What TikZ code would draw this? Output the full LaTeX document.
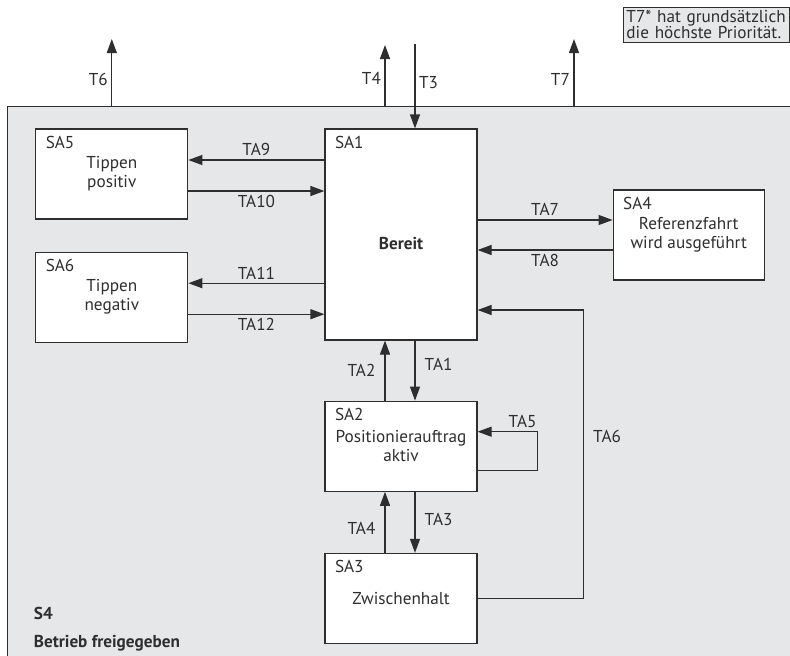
\documentclass[tikz,border=0pt]{standalone}
\usepackage{fontspec}
\setmainfont{PT Sans}
\usetikzlibrary{arrows.meta,positioning}
\definecolor{bgray}{HTML}{E6E7E9}
\definecolor{ink}{HTML}{2E2E2E}

\begin{document}
\begin{tikzpicture}[x=1pt,y=-1pt,
  font=\fontsize{17.2}{19}\selectfont, text=ink, line width=1.2pt,
  >={Triangle[length=14pt,width=10pt]},
  st/.style={draw=ink,fill=white,minimum width=152pt,minimum height=90pt,
    align=center,inner sep=0pt},
  sa/.style={label={[anchor=north west,inner sep=0pt,xshift=10pt,yshift=-7pt]north west:#1}},
  tr/.style={->,draw=ink},
  hl/.style={inner sep=3.5pt}, vl/.style={inner sep=9pt}]
\useasboundingbox (0,0) rectangle (790,656);
% aeusserer Zustand S4
\node[draw=ink,fill=bgray,anchor=north west,minimum width=820pt,minimum height=600pt,
  inner sep=0pt] (s4) at (7,106) {};
\node[anchor=base west,font=\fontsize{17.2}{19}\bfseries] (s4a) at (30,619) {S4};
\node[anchor=base west,font=\fontsize{17.2}{19}\bfseries] (s4b) at (30,647) {Betrieb freigegeben};
\node[draw=ink,fill=bgray,line width=0.9pt,anchor=north west,align=left,text width=160pt,
  inner sep=3pt] (note) at (623,7) {T7* hat grundsätzlich\\[-3pt]die höchste Priorität.};
% Unterzustaende
\node[st,sa=SA1,minimum height=211pt] (sa1) at (401,234.5) {\raisebox{-15pt}[0pt][0pt]{\textbf{Bereit}}};
\node[st,sa=SA5,left=136pt of sa1.north west,anchor=north east] (sa5) {Tippen\\positiv};
\node[st,sa=SA6,below=32pt of sa5] (sa6) {Tippen\\negativ};
\node[st,sa=SA4,minimum width=151pt,right=135pt of sa1.north east,anchor=north west,
  yshift=-61pt] (sa4) {Referenzfahrt\\wird ausgeführt};
\node[st,sa=SA2,below=60pt of sa1] (sa2) {Positionierauftrag\\aktiv};
\node[st,sa=SA3,below=61pt of sa2] (sa3) {Zwischenhalt};
% Transitionen nach aussen
\draw[tr] (sa5.north |- s4.north) -- node[left,hl,pos=0.4]{T6} ++(0,-67);
\draw[tr] ([xshift=-16pt]sa1.north |- s4.north) -- node[left,hl,pos=0.45]{T4} ++(0,-61);
\draw[tr] ([xshift=14pt,yshift=84pt]sa1.north) -- node[right,hl,pos=0.45]{T3} ([xshift=14pt]sa1.north);
\draw[tr] ([xshift=567pt]s4.north west) -- node[left,hl,pos=0.4]{T7} ++(0,-67);
% TA9 .. TA12
\draw[tr] ([yshift=14pt]sa1.west |- sa5.east) -- node[above,hl]{TA9} ([yshift=14pt]sa5.east);
\draw[tr] ([yshift=-17pt]sa5.east) -- node[below,hl]{TA10} ([yshift=-17pt]sa1.west |- sa5.east);
\draw[tr] ([yshift=14pt]sa1.west |- sa6.east) -- node[above,hl]{TA11} ([yshift=14pt]sa6.east);
\draw[tr] ([yshift=-17pt]sa6.east) -- node[below,hl]{TA12} ([yshift=-17pt]sa1.west |- sa6.east);
% TA7, TA8
\draw[tr] ([yshift=15pt]sa1.east |- sa4.west) -- node[above,hl]{TA7} ([yshift=15pt]sa4.west);
\draw[tr] ([yshift=-15pt]sa4.west) -- node[below,hl]{TA8} ([yshift=-15pt]sa1.east |- sa4.west);
% TA1 .. TA5
\draw[tr] ([xshift=14pt]sa1.south) -- node[right,vl,pos=0.4]{TA1} ([xshift=14pt]sa2.north);
\draw[tr] ([xshift=-16pt]sa2.north) -- node[left,vl]{TA2} ([xshift=-16pt]sa1.south);
\draw[tr] ([xshift=14pt]sa2.south) -- node[right,vl,pos=0.45]{TA3} ([xshift=14pt]sa3.north);
\draw[tr] ([xshift=-16pt]sa3.north) -- node[left,vl,pos=0.4]{TA4} ([xshift=-16pt]sa2.south);
\draw[tr] ([yshift=-24.5pt]sa2.east) -- ++(60,0) |- node[above,hl,pos=0.625]{TA5} ([yshift=14.5pt]sa2.east);
% TA6
\draw[tr] (sa3.east) -- ++(106,0) |- node[right,vl,pos=0.28]{TA6} ([yshift=-75.5pt]sa1.east);
\end{tikzpicture}
\end{document}
